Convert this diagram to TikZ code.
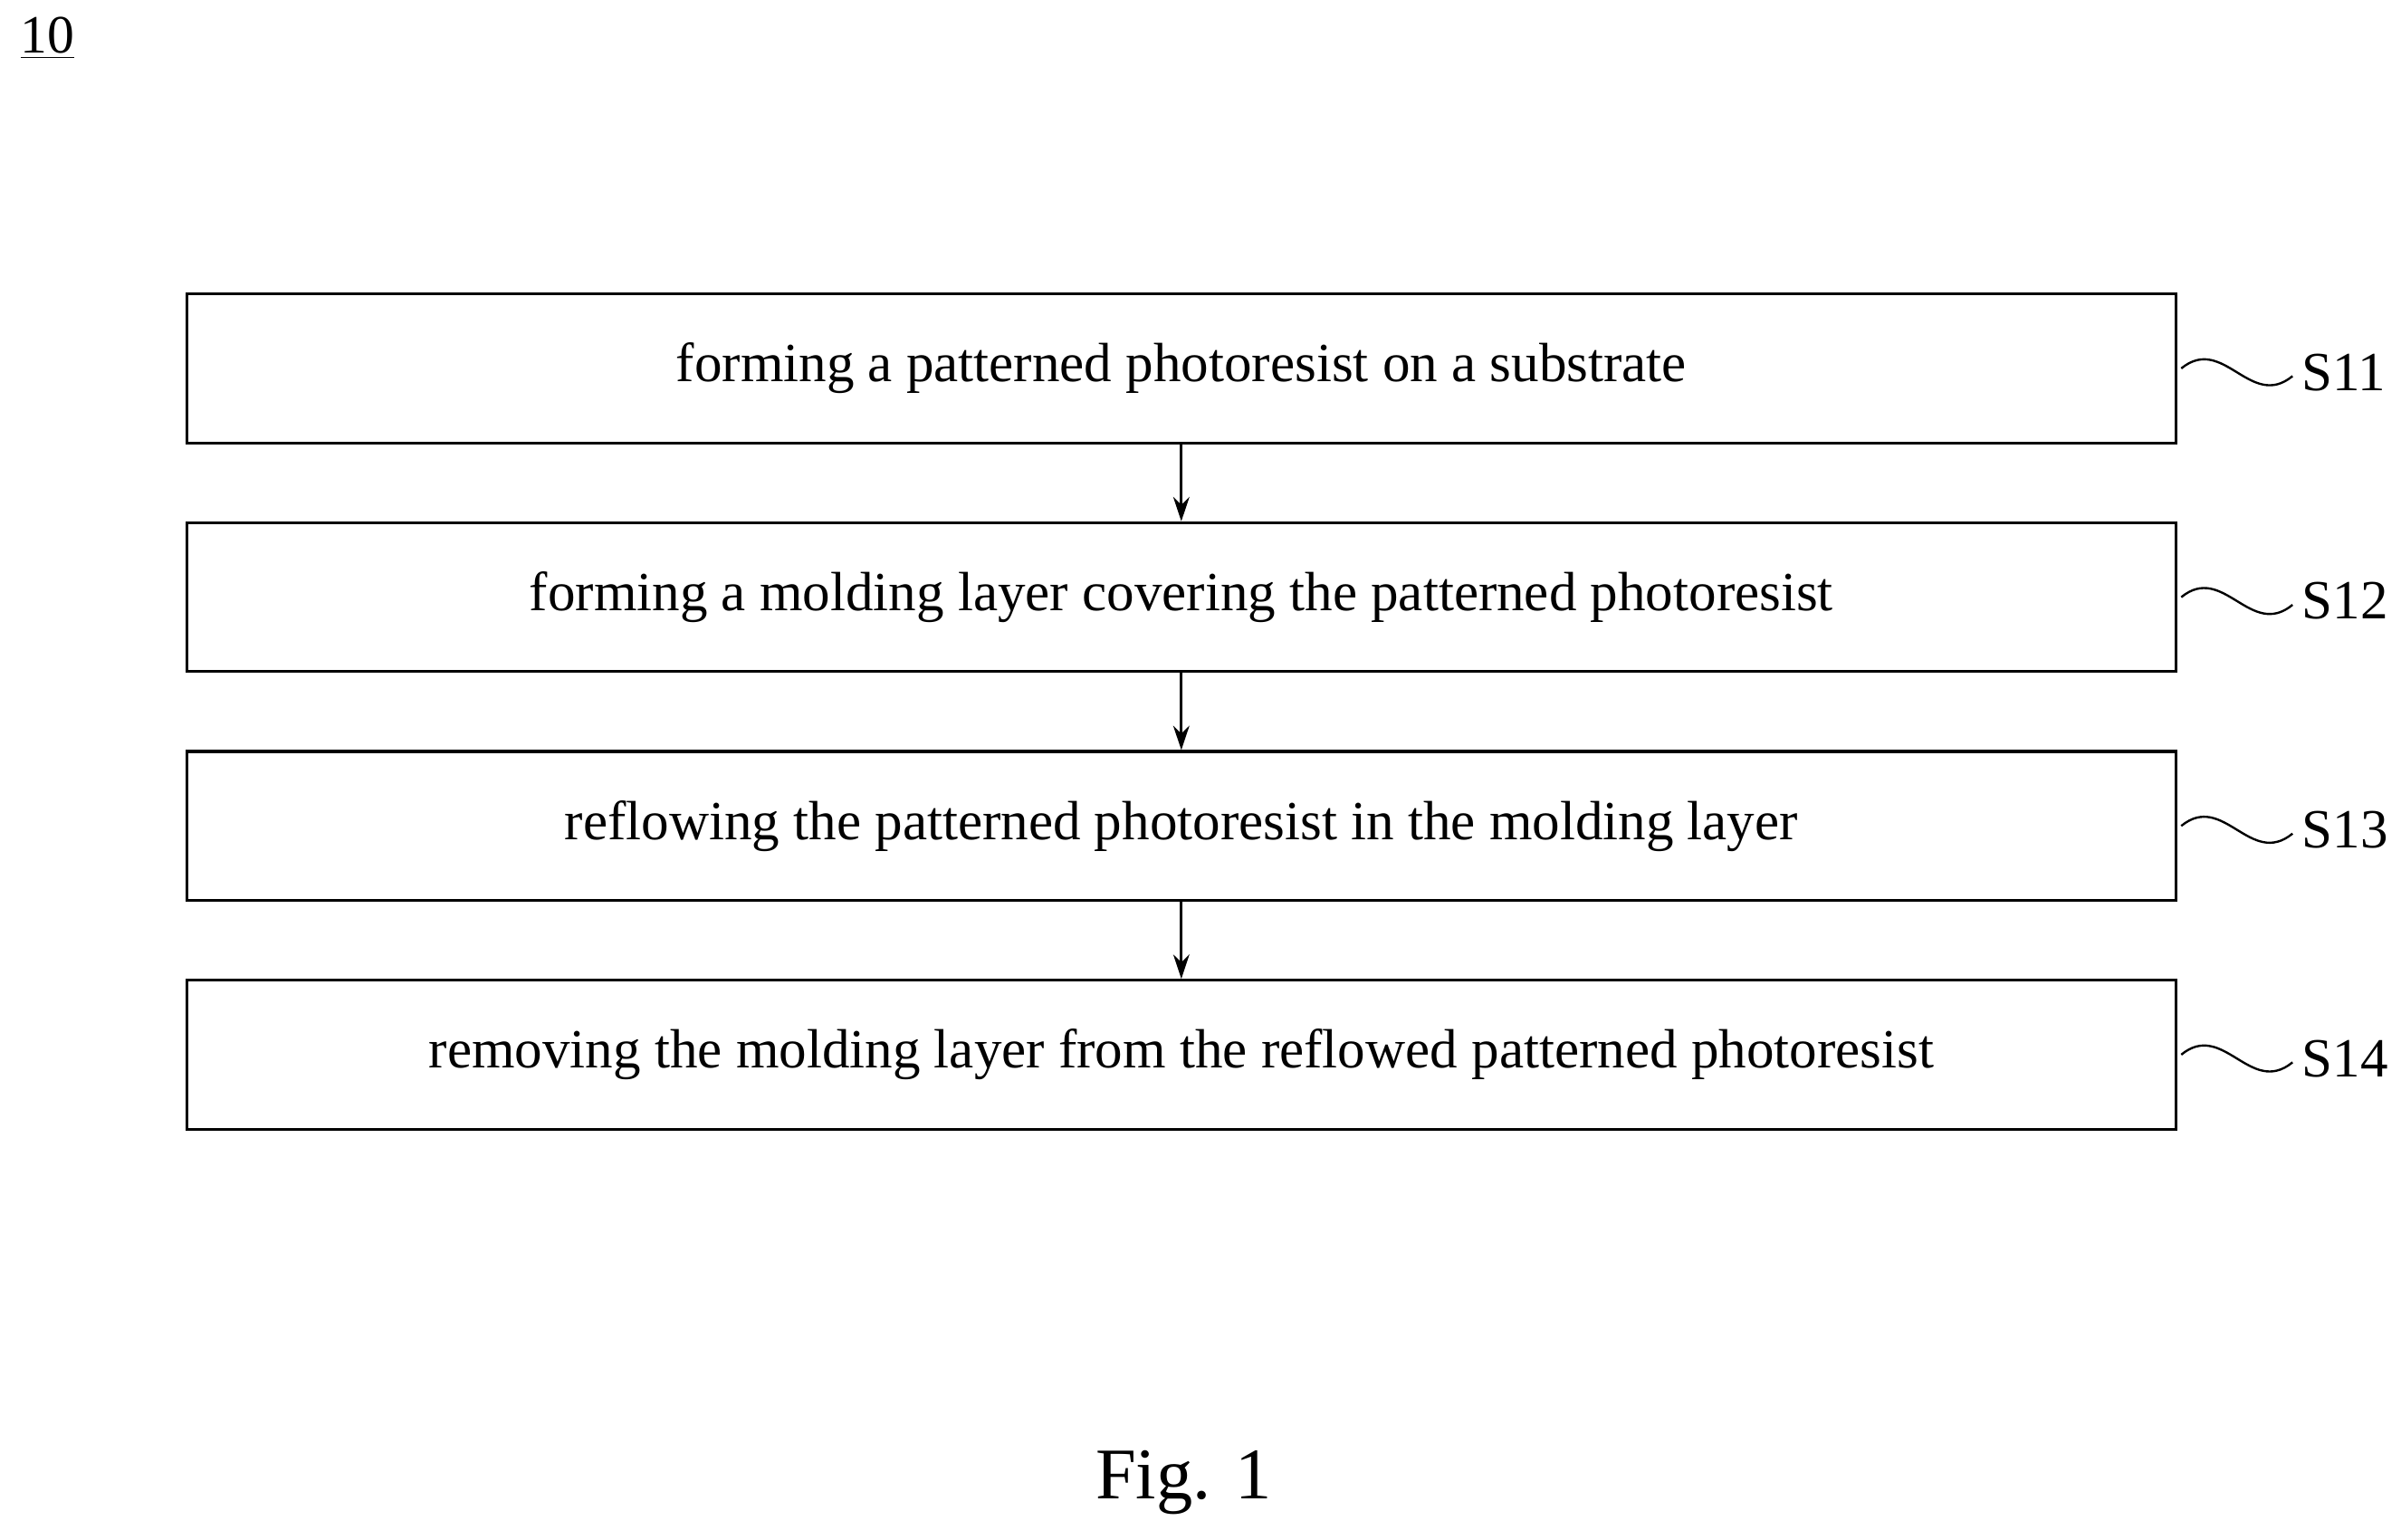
\documentclass[tikz,border=0pt]{standalone}
\usepackage{fontspec}
\setmainfont{Liberation Serif}
\usepackage{tikz}
\usetikzlibrary{arrows.meta}

\begin{document}
\begin{tikzpicture}[x=0.02cm,y=-0.02cm]
    \useasboundingbox (0,0) rectangle (1564,1003);
    \tikzset{stepbox/.style={draw,line width=1.1pt,minimum width=25.92cm,minimum height=1.94cm,font=\fontsize{20.5}{24}\selectfont},
             steplabel/.style={font=\fontsize{20.5}{24}\selectfont,anchor=west}}
    \begin{scope}[every node/.style={stepbox}]
        \node (s11) at (769.5,240) {forming a patterned photoresist on a substrate};
        \node (s12) at (769.5,389) {forming a molding layer covering the patterned photoresist};
        \node (s13) at (769.5,538) {reflowing the patterned photoresist in the molding layer};
        \node (s14) at (769.5,687) {removing the molding layer from the reflowed patterned photoresist};
    \end{scope}

    \foreach \a/\b in {s11/s12,s12/s13,s13/s14}
        \draw [-{Stealth[length=9pt,width=6pt]},line width=0.9pt] (\a) -- (\b);

    \foreach \s/\t in {s11/S11,s12/S12,s13/S13,s14/S14} {
        \node [steplabel] (l\s) at ([xshift=1.5cm,yshift=-0.05cm]\s.east) {\t};
        \draw [line width=0.8pt] ([xshift=0.05cm]\s.east) .. controls +(0.55cm,0.45cm) and +(-0.55cm,-0.45cm) .. ([yshift=-0.05cm]l\s.west);
    }

    \node [font=\fontsize{20}{24}\selectfont] (num) at (31,25) {\underline{10}};
    \node [font=\fontsize{27}{32}\selectfont] (fig) at (771,966) {Fig. 1};
\end{tikzpicture}
\end{document}
